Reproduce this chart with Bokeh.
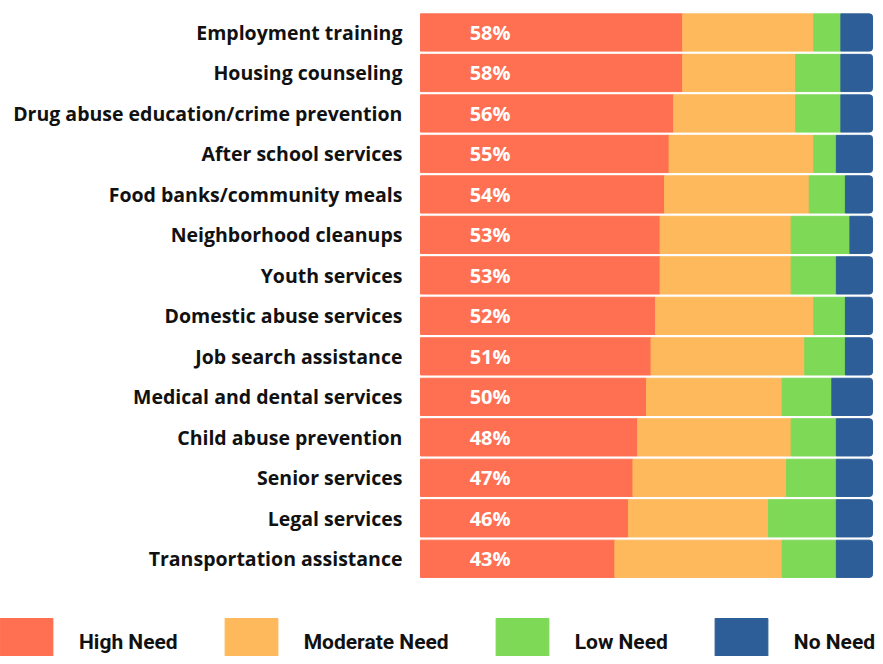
from bokeh.plotting import figure
from bokeh.models import ColumnDataSource, Range1d, Legend, LegendItem
from bokeh.core.properties import value
from bokeh.embed import file_html
from bokeh.resources import INLINE

categories = [
    "Employment training",
    "Housing counseling",
    "Drug abuse education/crime prevention",
    "After school services",
    "Food banks/community meals",
    "Neighborhood cleanups",
    "Youth services",
    "Domestic abuse services",
    "Job search assistance",
    "Medical and dental services",
    "Child abuse prevention",
    "Senior services",
    "Legal services",
    "Transportation assistance",
]
high_need = [58, 58, 56, 55, 54, 53, 53, 52, 51, 50, 48, 47, 46, 43]
moderate_need = [29, 25, 27, 32, 32, 29, 29, 35, 34, 30, 34, 34, 31, 37]
low_need = [6, 10, 10, 5, 8, 13, 10, 7, 9, 11, 10, 11, 15, 12]
no_need = [7, 7, 7, 8, 6, 5, 8, 6, 6, 9, 8, 8, 8, 8]
series_names = ["High Need", "Moderate Need", "Low Need", "No Need"]
colors = ["#FF6F51", "#FDB95B", "#7ED957", "#2D5E98"]

n = len(categories)
source = ColumnDataSource(dict(
    cat=categories,
    pos=[n - 1 - i for i in range(n)],
    high=high_need,
    moderate=moderate_need,
    low=low_need,
    none=no_need,
    label=[f"{v}%" for v in high_need],
    lx=[15.4] * n,
    cx=[-4.0] * n,
))

p = figure(
    width=875, height=656,
    x_range=Range1d(-92.92, 100.66),
    y_range=Range1d(-2.413, n - 1 + 0.79),
    output_backend="svg", toolbar_location=None,
    x_axis_location=None, y_axis_location=None,
    min_border_left=0, min_border_right=0, min_border_top=0, min_border_bottom=0,
)
p.outline_line_color = None
p.xgrid.visible = False
p.ygrid.visible = False
p.background_fill_color = "white"

renderers = p.hbar_stack(
    ["high", "moderate", "low", "none"], y="pos", height=0.92,
    color=colors, source=source,
)
try:
    renderers[-1].glyph.border_radius = (0, 3, 3, 0)
except Exception:
    pass

# percentage labels inside the red segment
p.text(x="lx", y="pos", text="label", source=source,
       text_color="white", text_font=value("Open Sans"), text_font_style="bold",
       text_font_size="20px", text_align="center", text_baseline="middle")

# category labels
p.text(x="cx", y="pos", text="cat", source=source,
       text_color="#111111", text_font=value("Open Sans"), text_font_style="bold",
       text_font_size="19.5px", text_align="right", text_baseline="middle")

legend = Legend(
    items=[LegendItem(label=nm, renderers=[r]) for nm, r in zip(series_names, renderers)],
    orientation="horizontal",
    location=(-7, -16),
    glyph_width=66, glyph_height=60,
    label_standoff=20, spacing=40,
    padding=0, margin=0,
    border_line_color=None, background_fill_alpha=0,
    label_text_font="Roboto", label_text_font_style="bold",
    label_text_font_size="21px", label_text_color="#111111",
    label_height=60,
)
p.add_layout(legend)

open("out.html", "w").write(file_html(p, INLINE))
